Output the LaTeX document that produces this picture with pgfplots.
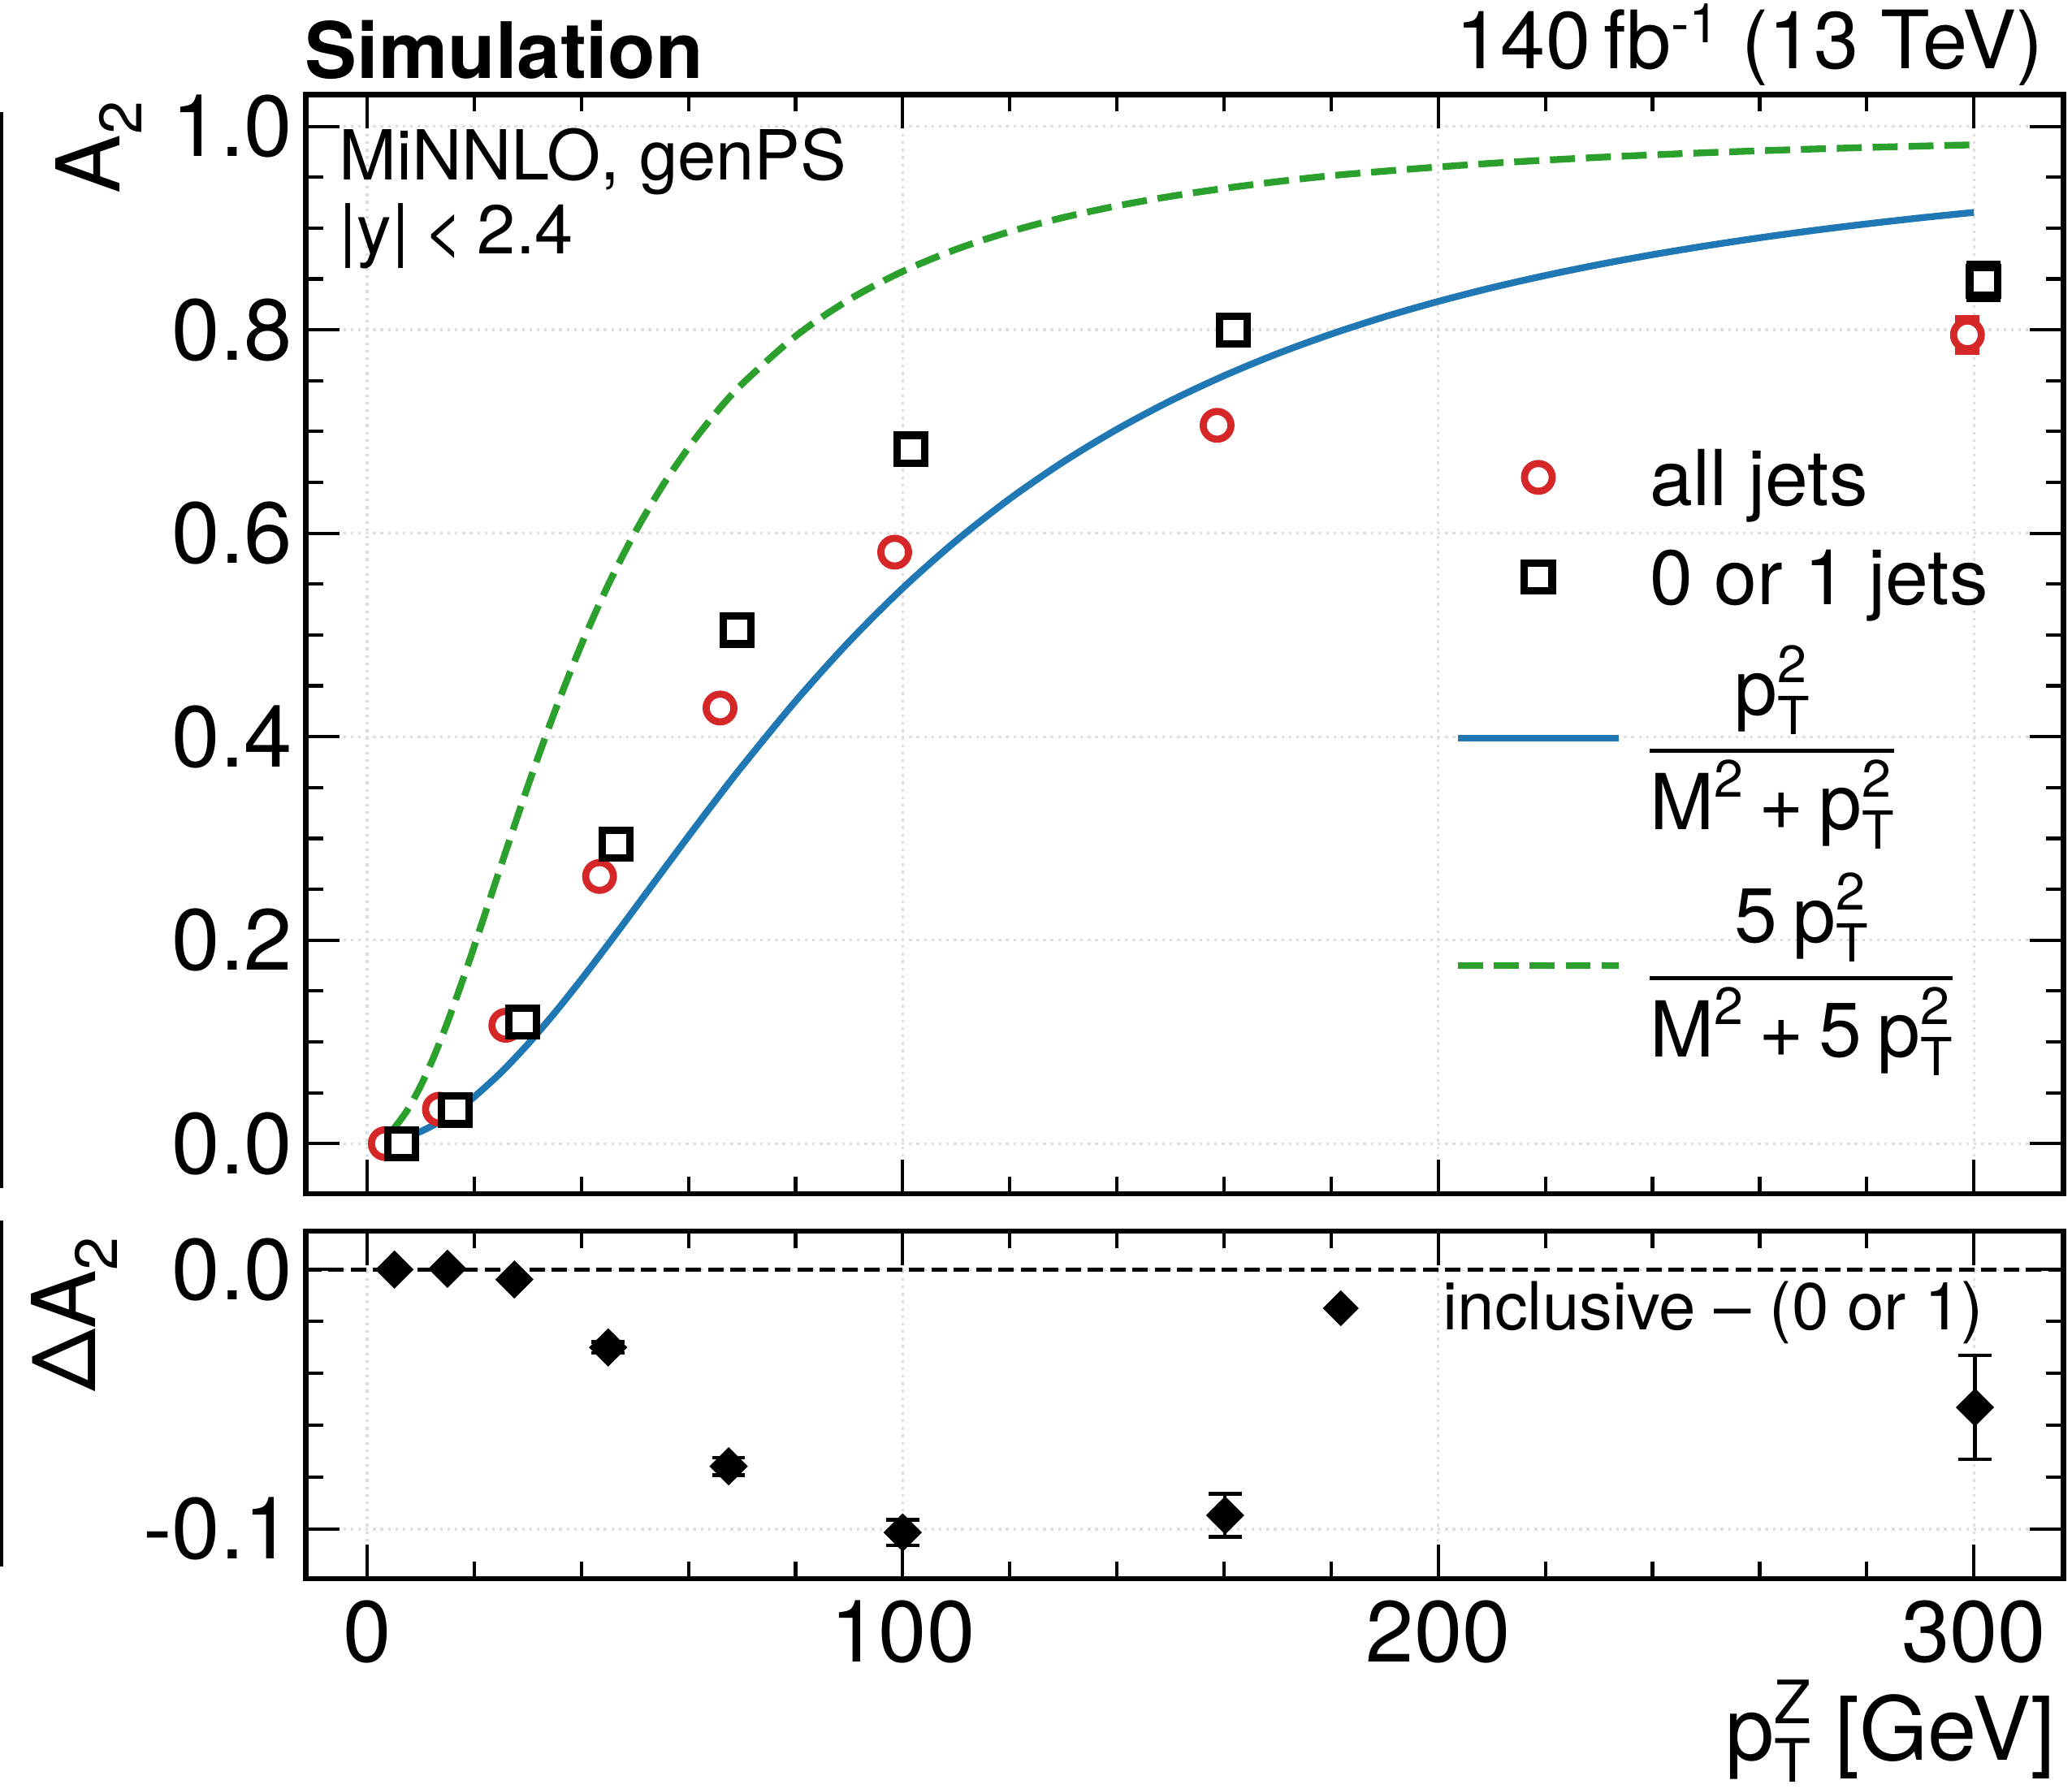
\documentclass[border=0pt]{standalone}
\usepackage{fontspec}
\setmainfont{TeX Gyre Heros}
\usepackage{amsmath}
\usepackage{pgfplots}
\pgfplotsset{compat=1.18}
\definecolor{tabblue}{HTML}{1F77B4}
\definecolor{tabgreen}{HTML}{2CA02C}
\definecolor{tabred}{HTML}{D62728}
\makeatletter
\newcommand{\scr}[1]{{\fontsize{\the\dimexpr0.68\dimexpr\f@size pt\relax\relax}{0pt}\selectfont #1}}
\makeatother
\newcommand{\Sup}[1]{\raisebox{0.42em}{\scr{#1}}}
\newcommand{\Sub}[1]{\raisebox{-0.25em}{\scr{#1}}}
\newcommand{\SupSub}[2]{\rlap{\Sup{#1}}\Sub{#2}}
\newcommand{\pT}{p\SupSub{2}{T}}
\newcommand{\pl}{\hspace{0.2em}+\hspace{0.2em}}
\newcommand{\lent}[3]{$\vcenter to #2{\vskip #1\vss\hbox{#3}\vss}$}
\newcommand{\FracA}{$\nulldelimiterspace=0pt\displaystyle\genfrac{}{}{1.3bp}{0}{\mbox{\pT}}{\mbox{\raisebox{0pt}[0.72em]{M\Sup{2}\pl\pT}}}$}
\newcommand{\FracB}{$\nulldelimiterspace=0pt\displaystyle\genfrac{}{}{1.3bp}{0}{\mbox{5\hspace{0.2em}\pT}}{\mbox{\raisebox{0pt}[0.72em]{M\Sup{2}\pl 5\hspace{0.2em}\pT}}}$}
\pgfplotsset{
  base/.style={
    scale only axis, width=519.24bp,
    xmin=-11.4, xmax=316.7,
    xtick={0,100,200,300}, minor x tick num=4,
    major tick length=10bp, minor tick length=5bp,
    tick style={black, line width=1bp},
    axis line style={line width=1.6bp},
    grid=major,
    major grid style={line width=0.8bp, black!13, dash pattern=on 0.8bp off 1.4bp},
    tick label style={font=\fontsize{25.6bp}{31bp}\selectfont},
    yticklabel style={anchor=east, inner sep=0pt, xshift=-3.8bp},
    xticklabel style={anchor=north, inner sep=0pt, yshift=-6.2bp},
  },
  mklegend/.style={legend image code/.code={\path (0bp,0bp) (47.5bp,0bp);\draw[mark repeat=2,mark phase=2] plot coordinates {(0bp,0bp) (23.75bp,0bp) (47.5bp,0bp)};}},
  lnlegend/.style={legend image code/.code={\draw (0bp,0bp) -- (47.5bp,0bp);}},
}
\begin{document}
\begin{tikzpicture}
\path[use as bounding box] (0bp,0bp) rectangle (612.24bp,528.48bp);

% upper panel
\begin{axis}[base, at={(90.43bp,175.68bp)}, anchor=south west, height=324.8bp,
  ymin=-0.0493, ymax=1.0311,
  ytick={0,0.2,0.4,0.6,0.8,1.0}, yticklabels={0.0,0.2,0.4,0.6,0.8,1.0}, minor y tick num=3,
  xticklabels={},
  legend style={at={(axis description cs:0.6536,0.6971)}, anchor=north west, draw=none, fill=none,
    inner sep=0pt, outer sep=0pt, row sep=0pt, column sep=8.2bp,
    nodes={inner sep=0pt, outer sep=0pt, text depth=}, font=\fontsize{22.8bp}{27bp}\selectfont},
  legend cell align=left]
\addplot[tabgreen, line width=2bp, dash pattern=on 7.4bp off 3.2bp, smooth, forget plot] coordinates {
(5,0.01481) (7.5,0.03272) (10,0.05672) (12.5,0.08589) (15,0.11917) (17.5,0.15552) (20,0.19389)
(25,0.27316) (30,0.35115) (35,0.42417) (40,0.49035) (45,0.54908) (50,0.60053) (55,0.64527)
(60,0.68402) (65,0.71756) (70,0.74661) (80,0.79375) (90,0.82966) (100,0.85741) (110,0.87917)
(120,0.89647) (130,0.91041) (140,0.92179) (150,0.93118) (160,0.93900) (170,0.94570) (180,0.95153)
(190,0.95596) (200,0.96008) (210,0.96372) (220,0.96678) (230,0.96953) (240,0.97194) (250,0.97409)
(260,0.97599) (270,0.97770) (280,0.97923) (290,0.98061) (300,0.98186)};
\addplot[tabblue, line width=2bp, smooth, forget plot] coordinates {
(5,0.0030) (7.5,0.00672) (10,0.01188) (12.5,0.01844) (15,0.02635) (17.5,0.03552) (20,0.04590)
(25,0.06991) (30,0.09767) (35,0.12841) (40,0.16137) (45,0.19584) (50,0.23116) (55,0.26675)
(60,0.30214) (65,0.33692) (70,0.37079) (80,0.43493) (90,0.49345) (100,0.54600) (110,0.59270)
(120,0.63394) (130,0.67024) (140,0.70213) (150,0.73017) (160,0.75483) (170,0.77661) (180,0.79577)
(190,0.81279) (200,0.82790) (210,0.84140) (220,0.85339) (230,0.86417) (240,0.87385) (250,0.88256)
(260,0.89047) (270,0.89762) (280,0.90411) (290,0.91004) (300,0.91542)};
% error bars of the last points (drawn below the markers)
\addplot[forget plot, only marks, mark=none, tabred, error bars/.cd, y dir=both, y explicit,
  error bar style={line width=2bp, solid}, error mark options={rotate=90, mark size=3.6bp, line width=2bp}]
  coordinates {(298.8,0.795) +- (0,0.016)};
\addplot[forget plot, only marks, mark=none, black, error bars/.cd, y dir=both, y explicit,
  error bar style={line width=2.2bp, solid}, error mark options={rotate=90, mark size=5.1bp, line width=2.2bp}]
  coordinates {(301.8,0.8476) +- (0,0.0168)};
\addplot[only marks, mark=*, mark size=4.1bp, mark options={draw=tabred, fill=white, line width=2.1bp, solid}, mklegend]
  coordinates {(3.4,0.000) (13.5,0.0338) (25.9,0.1163) (43.4,0.2626) (65.9,0.4282) (98.5,0.5814) (158.7,0.7061) (298.8,0.795)};
\addlegendentry{\lent{5.2bp}{29.4bp}{all jets}}
\addplot[only marks, mark=square*, mark size=4.1bp, mark options={draw=black, fill=white, line width=2.2bp, solid}, mklegend]
  coordinates {(6.5,0.000) (16.5,0.033) (29.0,0.1197) (46.5,0.2943) (69.1,0.5048) (101.5,0.6827) (161.7,0.7996) (301.8,0.8476)};
\addlegendentry{\lent{5.2bp}{29.4bp}{0 or 1 jets}}
\addlegendimage{tabblue, line width=2bp, lnlegend}
\addlegendentry{\lent{5.2bp}{66.08bp}{\FracA}}
\addlegendimage{tabgreen, line width=2bp, dash pattern=on 7.4bp off 3.2bp, lnlegend}
\addlegendentry{\lent{5.2bp}{68.18bp}{\FracB}}
\end{axis}

% lower panel
\begin{axis}[base, at={(90.43bp,61.92bp)}, anchor=south west, height=102.72bp,
  ymin=-0.1191, ymax=0.01483,
  ytick={-0.1,0}, yticklabels={-0.1,0.0}, minor ytick={-0.08,-0.06,-0.04,-0.02},
  xticklabels={0,100,200,300},
  legend style={at={(axis description cs:0.5561,0.7780)}, anchor=west, draw=none, fill=none,
    inner sep=0pt, outer sep=0pt, row sep=0pt, column sep=13.2bp,
    nodes={inner sep=0pt, outer sep=0pt, text depth=}, font=\fontsize{19.6bp}{23bp}\selectfont},
  legend cell align=left]
\addplot[forget plot, black, line width=1.3bp, dash pattern=on 4.6bp off 2bp] coordinates {(-11.4,0) (316.7,0)};
\addplot[only marks, mark=square*, mark size=3.75bp, mark options={rotate=45, draw=black, fill=black, line width=0.5bp, solid},
  legend image code/.code={\path (0bp,0bp) (33.6bp,0bp);\draw[mark repeat=2,mark phase=2,mark size=3.5bp] plot coordinates {(0bp,0bp) (16.8bp,0bp) (33.6bp,0bp)};},
  error bars/.cd, y dir=both, y explicit,
  error bar style={black, line width=1bp, solid}, error mark options={black, rotate=90, mark size=4.9bp, line width=1bp}]
  coordinates {(5.1,0.000) +- (0,0) (15.0,0.0003) +- (0,0) (27.5,-0.0038) +- (0,0) (45.0,-0.0300) +- (0,0.0021)
  (67.5,-0.0758) +- (0,0.0034) (100.0,-0.1013) +- (0,0.0049) (160.2,-0.0947) +- (0,0.0083) (300.2,-0.0531) +- (0,0.0200)};
\addlegendentry{\lent{2.4bp}{20bp}{inclusive -- (0 or 1)}}
\end{axis}

% texts
\node[anchor=base west, inner sep=0pt, font=\fontsize{23bp}{27bp}\selectfont\bfseries] at (90bp,505.2bp) {Simulation};
\node[anchor=base east, inner sep=0pt, font=\fontsize{23.8bp}{28bp}\selectfont] at (604bp,508.1bp) {140\,fb\raisebox{0.33em}{\scr{-1}} (13 TeV)};
\node[anchor=base west, inner sep=0pt, font=\fontsize{20.4bp}{24bp}\selectfont] at (100bp,475.2bp) {MiNNLO, genPS};
\node[anchor=base west, inner sep=0pt, font=\fontsize{20.4bp}{24bp}\selectfont] at (100bp,453.4bp) {|y|\hspace{0.2em}<\hspace{0.2em}2.4};
\node[rotate=90, anchor=base east, inner sep=0pt, font=\fontsize{26bp}{31bp}\selectfont] at (35.5bp,498.7bp) {A\Sub{2}};
\node[rotate=90, anchor=base east, inner sep=0pt, font=\fontsize{26bp}{31bp}\selectfont] at (28.3bp,163.0bp) {ΔA\Sub{2}};
\node[anchor=base east, inner sep=0pt, font=\fontsize{26bp}{31bp}\selectfont] at (607.5bp,8.2bp) {p\SupSub{Z}{T} [GeV]};
\draw[line width=1bp] (0.5bp,177.4bp) -- (0.5bp,495.4bp);
\draw[line width=1bp] (0.5bp,65.5bp) -- (0.5bp,167.8bp);
\end{tikzpicture}
\end{document}
